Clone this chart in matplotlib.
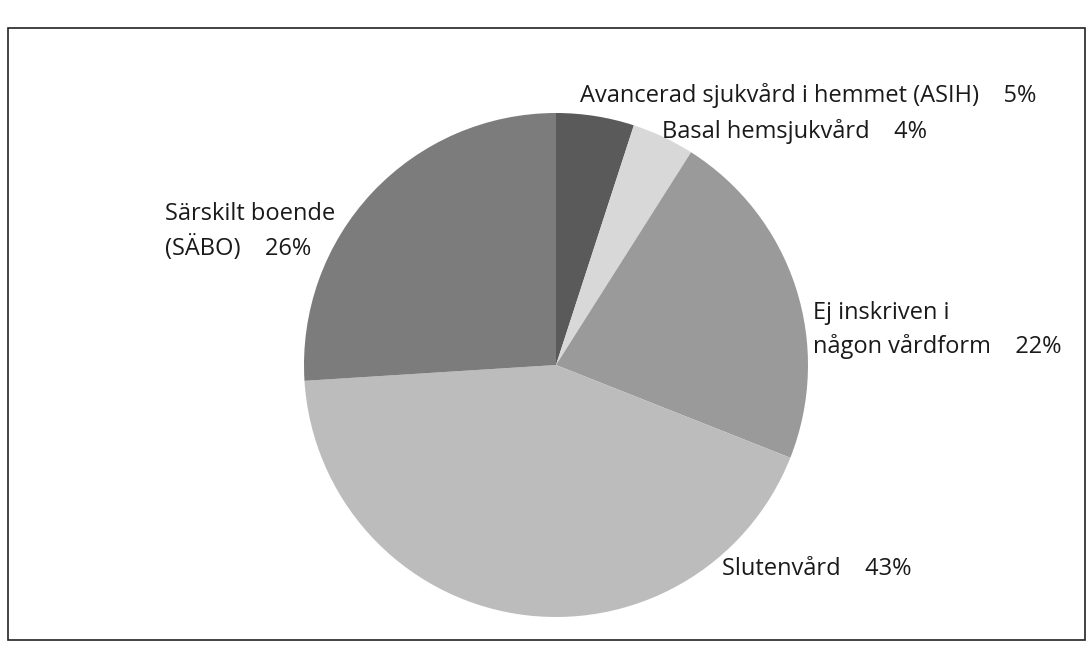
import matplotlib.pyplot as plt
from matplotlib.patches import Rectangle

# data
kategorier = ["Avancerad sjukvård i hemmet (ASIH)", "Basal hemsjukvård",
              "Ej inskriven i\nnågon vårdform", "Slutenvård",
              "Särskilt boende\n(SÄBO)"]
andelar = [5, 4, 22, 43, 26]
farger = ["#5a5a5a", "#d8d8d8", "#9a9a9a", "#bcbcbc", "#7c7c7c"]

W, H = 1089, 648
fig = plt.figure(figsize=(W / 100, H / 100), dpi=100)
plt.rcParams['font.family'] = ['Open Sans', 'DejaVu Sans']

# ram runt diagrammet
fig.patches.append(Rectangle((8 / W, 8 / H), 1077 / W, (640 - 28) / H,
                             transform=fig.transFigure, fill=False,
                             edgecolor="#222222", linewidth=1.2))

cx, cy, r = 556, 365, 252
ax = fig.add_axes([(cx - r) / W, (H - cy - r) / H, 2 * r / W, 2 * r / H])
ax.pie(andelar, colors=farger, startangle=90, counterclock=False,
       wedgeprops=dict(edgecolor="none"))
ax.set_aspect("equal")
ax.set_xlim(-1, 1)
ax.set_ylim(-1, 1)

# etiketter (vänsterkant, baslinje för sista raden, i pixlar)
pos = [(580, 102), (662, 138), (813, 353), (722, 575), (165, 255)]
for k, a, (x, y) in zip(kategorier, andelar, pos):
    fig.text(x / W, 1 - y / H, k + "    " + str(a) + "%", fontsize=17,
             color="#1a1a1a", ha="left", va="baseline", linespacing=1.45)

fig.savefig("out.png", dpi=100)
